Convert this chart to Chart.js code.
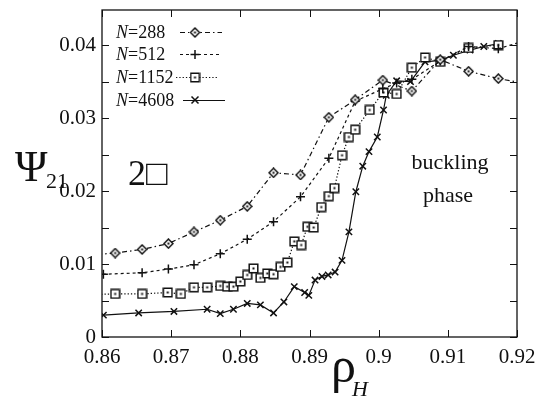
<!DOCTYPE html>
<html><head><meta charset="utf-8">
<script src="https://cdn.jsdelivr.net/npm/chart.js@4"></script>
<style>html,body{margin:0;padding:0;background:#fff}#wrap{width:537px;height:399px}</style>
</head><body><div id="wrap"><canvas id="c" width="537" height="399"></canvas></div>
<script>
const xTicks = [0.86, 0.87, 0.88, 0.89, 0.9, 0.91, 0.92];
const xTickLabels = ['0.86', '0.87', '0.88', '0.89', '0.9', '0.91', '0.92'];
const yTicks = [0, 0.01, 0.02, 0.03, 0.04];
const yTickLabels = ['0', '0.01', '0.02', '0.03', '0.04'];
const yMinorTicks = [0.005, 0.015, 0.025, 0.035];

const seriesNames = ['288', '512', '1152', '4608'];

const x288 = [0.8575, 0.8619, 0.8658, 0.8696, 0.8733, 0.8771, 0.8810, 0.8848, 0.8887, 0.8928, 0.8966, 0.9006, 0.9048, 0.9089, 0.9130, 0.9173, 0.9215];
const y288 = [0.0112, 0.0115, 0.0120, 0.0128, 0.0144, 0.0160, 0.0179, 0.0225, 0.0222, 0.0301, 0.0325, 0.0352, 0.0337, 0.0380, 0.0364, 0.0354, 0.0347];

const x512 = [0.8575, 0.8602, 0.8658, 0.8696, 0.8733, 0.8771, 0.8810, 0.8848, 0.8887, 0.8928, 0.8966, 0.9006, 0.9026, 0.9048, 0.9089, 0.9130, 0.9173, 0.9215];
const y512 = [0.0085, 0.0086, 0.0088, 0.0093, 0.0099, 0.0114, 0.0134, 0.0158, 0.0192, 0.0245, 0.0323, 0.0340, 0.0348, 0.0353, 0.0378, 0.0398, 0.0395, 0.0407];

const x1152 = [0.8575, 0.8619, 0.8658, 0.8695, 0.8714, 0.8733, 0.8752, 0.8771, 0.8781, 0.8790, 0.8800, 0.8810, 0.8819, 0.8829, 0.8839, 0.8848, 0.8858, 0.8868, 0.8878, 0.8888, 0.8897, 0.8906, 0.8917, 0.8928, 0.8936, 0.8947, 0.8957, 0.8966, 0.8987, 0.9007, 0.9026, 0.9048, 0.9067, 0.9089, 0.9130, 0.9173];
const y1152 = [0.0058, 0.0059, 0.0059, 0.0061, 0.0059, 0.0068, 0.0068, 0.0070, 0.0069, 0.0069, 0.0076, 0.0085, 0.0094, 0.0081, 0.0087, 0.0086, 0.0096, 0.0102, 0.0131, 0.0126, 0.0151, 0.0150, 0.0178, 0.0193, 0.0204, 0.0249, 0.0274, 0.0284, 0.0311, 0.0335, 0.0333, 0.0369, 0.0383, 0.0377, 0.0396, 0.0400];

const x4608 = [0.8602, 0.8653, 0.8704, 0.8752, 0.8771, 0.8790, 0.8810, 0.8829, 0.8848, 0.8863, 0.8878, 0.8893, 0.8899, 0.8908, 0.8918, 0.8927, 0.8937, 0.8947, 0.8957, 0.8967, 0.8977, 0.8986, 0.8998, 0.9007, 0.9011, 0.9026, 0.9046, 0.9067, 0.9089, 0.9108, 0.9132, 0.9152, 0.9173];
const y4608 = [0.0030, 0.0033, 0.0035, 0.0038, 0.0032, 0.0038, 0.0046, 0.0044, 0.0033, 0.0048, 0.0069, 0.0061, 0.0057, 0.0078, 0.0083, 0.0085, 0.0089, 0.0105, 0.0144, 0.0199, 0.0234, 0.0254, 0.0274, 0.0311, 0.0331, 0.0351, 0.0350, 0.0377, 0.0379, 0.0386, 0.0393, 0.0398, 0.0402];

const INK = '#111';
const SERIF = '"Liberation Serif", "DejaVu Serif", serif';

function makeMarker(kind) {
  const s = 11, c = document.createElement('canvas');
  c.width = s; c.height = s;
  const g = c.getContext('2d');
  g.strokeStyle = INK; g.fillStyle = '#fff'; g.lineWidth = 1.5;
  g.beginPath();
  if (kind === 'diamond') {
    g.moveTo(5.5, 1); g.lineTo(10, 5.5); g.lineTo(5.5, 10); g.lineTo(1, 5.5); g.closePath();
  } else {
    g.rect(1.2, 1.2, 8.6, 8.6);
  }
  g.fill(); g.stroke();
  g.fillStyle = INK; g.fillRect(4.5, 4.5, 2, 2);
  return c;
}
const diamondImg = makeMarker('diamond');
const squareImg = makeMarker('square');

function pts(xs, ys) { return xs.map((x, i) => ({x: x, y: ys[i]})); }

const datasets = [
  {label: 'N=288', data: pts(x288, y288), borderDash: [5, 3, 1.5, 3], pointStyle: diamondImg},
  {label: 'N=512', data: pts(x512, y512), borderDash: [3, 3], pointStyle: 'cross', pointRadius: 4.5},
  {label: 'N=1152', data: pts(x1152, y1152), borderDash: [1.3, 2], pointStyle: squareImg},
  {label: 'N=4608', data: pts(x4608, y4608), borderDash: [], pointStyle: 'crossRot', pointRadius: 4.5}
].map(d => Object.assign({
  showLine: true, borderColor: INK, backgroundColor: '#fff', borderWidth: 1.2,
  pointBorderColor: INK, pointBorderWidth: 1.5, pointRadius: 5, tension: 0
}, d));

const decor = {
  id: 'decor',
  afterDraw(chart) {
    const ctx = chart.ctx, a = chart.chartArea;
    const xs = chart.scales.x, ys = chart.scales.y;
    ctx.save();
    ctx.strokeStyle = INK; ctx.lineWidth = 1.3;
    ctx.strokeRect(a.left, a.top, a.right - a.left, a.bottom - a.top);
    ctx.lineWidth = 1;
    ctx.beginPath();
    xTicks.forEach(v => {
      const px = Math.round(xs.getPixelForValue(v)) + 0.5;
      ctx.moveTo(px, a.bottom); ctx.lineTo(px, a.bottom - 7);
      ctx.moveTo(px, a.top); ctx.lineTo(px, a.top + 7);
    });
    yTicks.concat(yMinorTicks).forEach(v => {
      const py = Math.round(ys.getPixelForValue(v)) + 0.5;
      ctx.moveTo(a.left, py); ctx.lineTo(a.left + 7, py);
      ctx.moveTo(a.right, py); ctx.lineTo(a.right - 7, py);
    });
    ctx.stroke();

    ctx.fillStyle = INK;
    ctx.textBaseline = 'alphabetic';
    // y title
    ctx.font = '44px ' + SERIF;
    ctx.textAlign = 'left';
    ctx.fillText('\u03A8', 15, 181);
    ctx.font = '22px ' + SERIF;
    ctx.fillText('21', 46, 188);
    // x title
    ctx.font = '50px ' + SERIF;
    ctx.fillText('\u03C1', 331, 382);
    ctx.font = 'italic 22px ' + SERIF;
    ctx.fillText('H', 352, 396);
    // annotations
    ctx.font = '36px ' + SERIF;
    ctx.fillText('2\u25A1', 128, 185);
    ctx.font = '22px ' + SERIF;
    ctx.textAlign = 'center';
    ctx.fillText('buckling', 450, 169);
    ctx.fillText('phase', 448, 202);

    // legend
    const rows = [32, 54, 77, 100];
    const lineStart = [180, 180, 176, 183];
    chart.data.datasets.forEach((d, i) => {
      const y = rows[i];
      ctx.textAlign = 'left';
      ctx.font = 'italic 18px ' + SERIF;
      ctx.fillText('N', 116, y + 6);
      const w = ctx.measureText('N').width;
      ctx.font = '18px ' + SERIF;
      ctx.fillText('=' + seriesNames[i], 116 + w, y + 6);
      ctx.beginPath();
      ctx.setLineDash(d.borderDash);
      ctx.lineWidth = 1.2;
      ctx.moveTo(lineStart[i], y + 0.5); ctx.lineTo(lineStart[i] + 42, y + 0.5);
      ctx.stroke();
      ctx.setLineDash([]);
      const mx = 195;
      if (d.pointStyle instanceof HTMLCanvasElement) {
        ctx.drawImage(d.pointStyle, mx - 5.5, y - 5);
      } else {
        ctx.lineWidth = 1.5;
        ctx.beginPath();
        if (d.pointStyle === 'cross') {
          ctx.moveTo(mx - 4.5, y + 0.5); ctx.lineTo(mx + 4.5, y + 0.5);
          ctx.moveTo(mx, y - 4); ctx.lineTo(mx, y + 5);
        } else {
          ctx.moveTo(mx - 3.5, y - 3.5); ctx.lineTo(mx + 3.5, y + 3.5);
          ctx.moveTo(mx + 3.5, y - 3.5); ctx.lineTo(mx - 3.5, y + 3.5);
        }
        ctx.stroke();
      }
    });
    ctx.restore();
  }
};

new Chart(document.getElementById('c'), {
  type: 'scatter',
  data: {datasets: datasets},
  options: {
    responsive: false, animation: false, devicePixelRatio: 1,
    layout: {padding: {left: 0, right: 20, top: 10, bottom: 0}},
    plugins: {legend: {display: false}, tooltip: {enabled: false}},
    scales: {
      x: {
        type: 'linear', min: 0.86, max: 0.92,
        grid: {display: false, drawTicks: false}, border: {display: false},
        afterBuildTicks: s => { s.ticks = xTicks.map(v => ({value: v})); },
        ticks: {
          padding: 8, color: INK, font: {family: SERIF, size: 21}, maxRotation: 0, autoSkip: false,
          callback: (v, i) => xTickLabels[i]
        },
        afterFit: s => { s.height = 62; s.paddingLeft = 0; s.paddingRight = 0; }
      },
      y: {
        type: 'linear', min: 0, max: 0.0448,
        grid: {display: false, drawTicks: false}, border: {display: false},
        afterBuildTicks: s => { s.ticks = yTicks.map(v => ({value: v})); },
        ticks: {
          padding: 6, color: INK, font: {family: SERIF, size: 21}, autoSkip: false,
          callback: (v, i) => yTickLabels[i]
        },
        afterFit: s => { s.width = 102; s.paddingTop = 0; s.paddingBottom = 0; }
      }
    }
  },
  plugins: [decor]
});
</script>
</body></html>
